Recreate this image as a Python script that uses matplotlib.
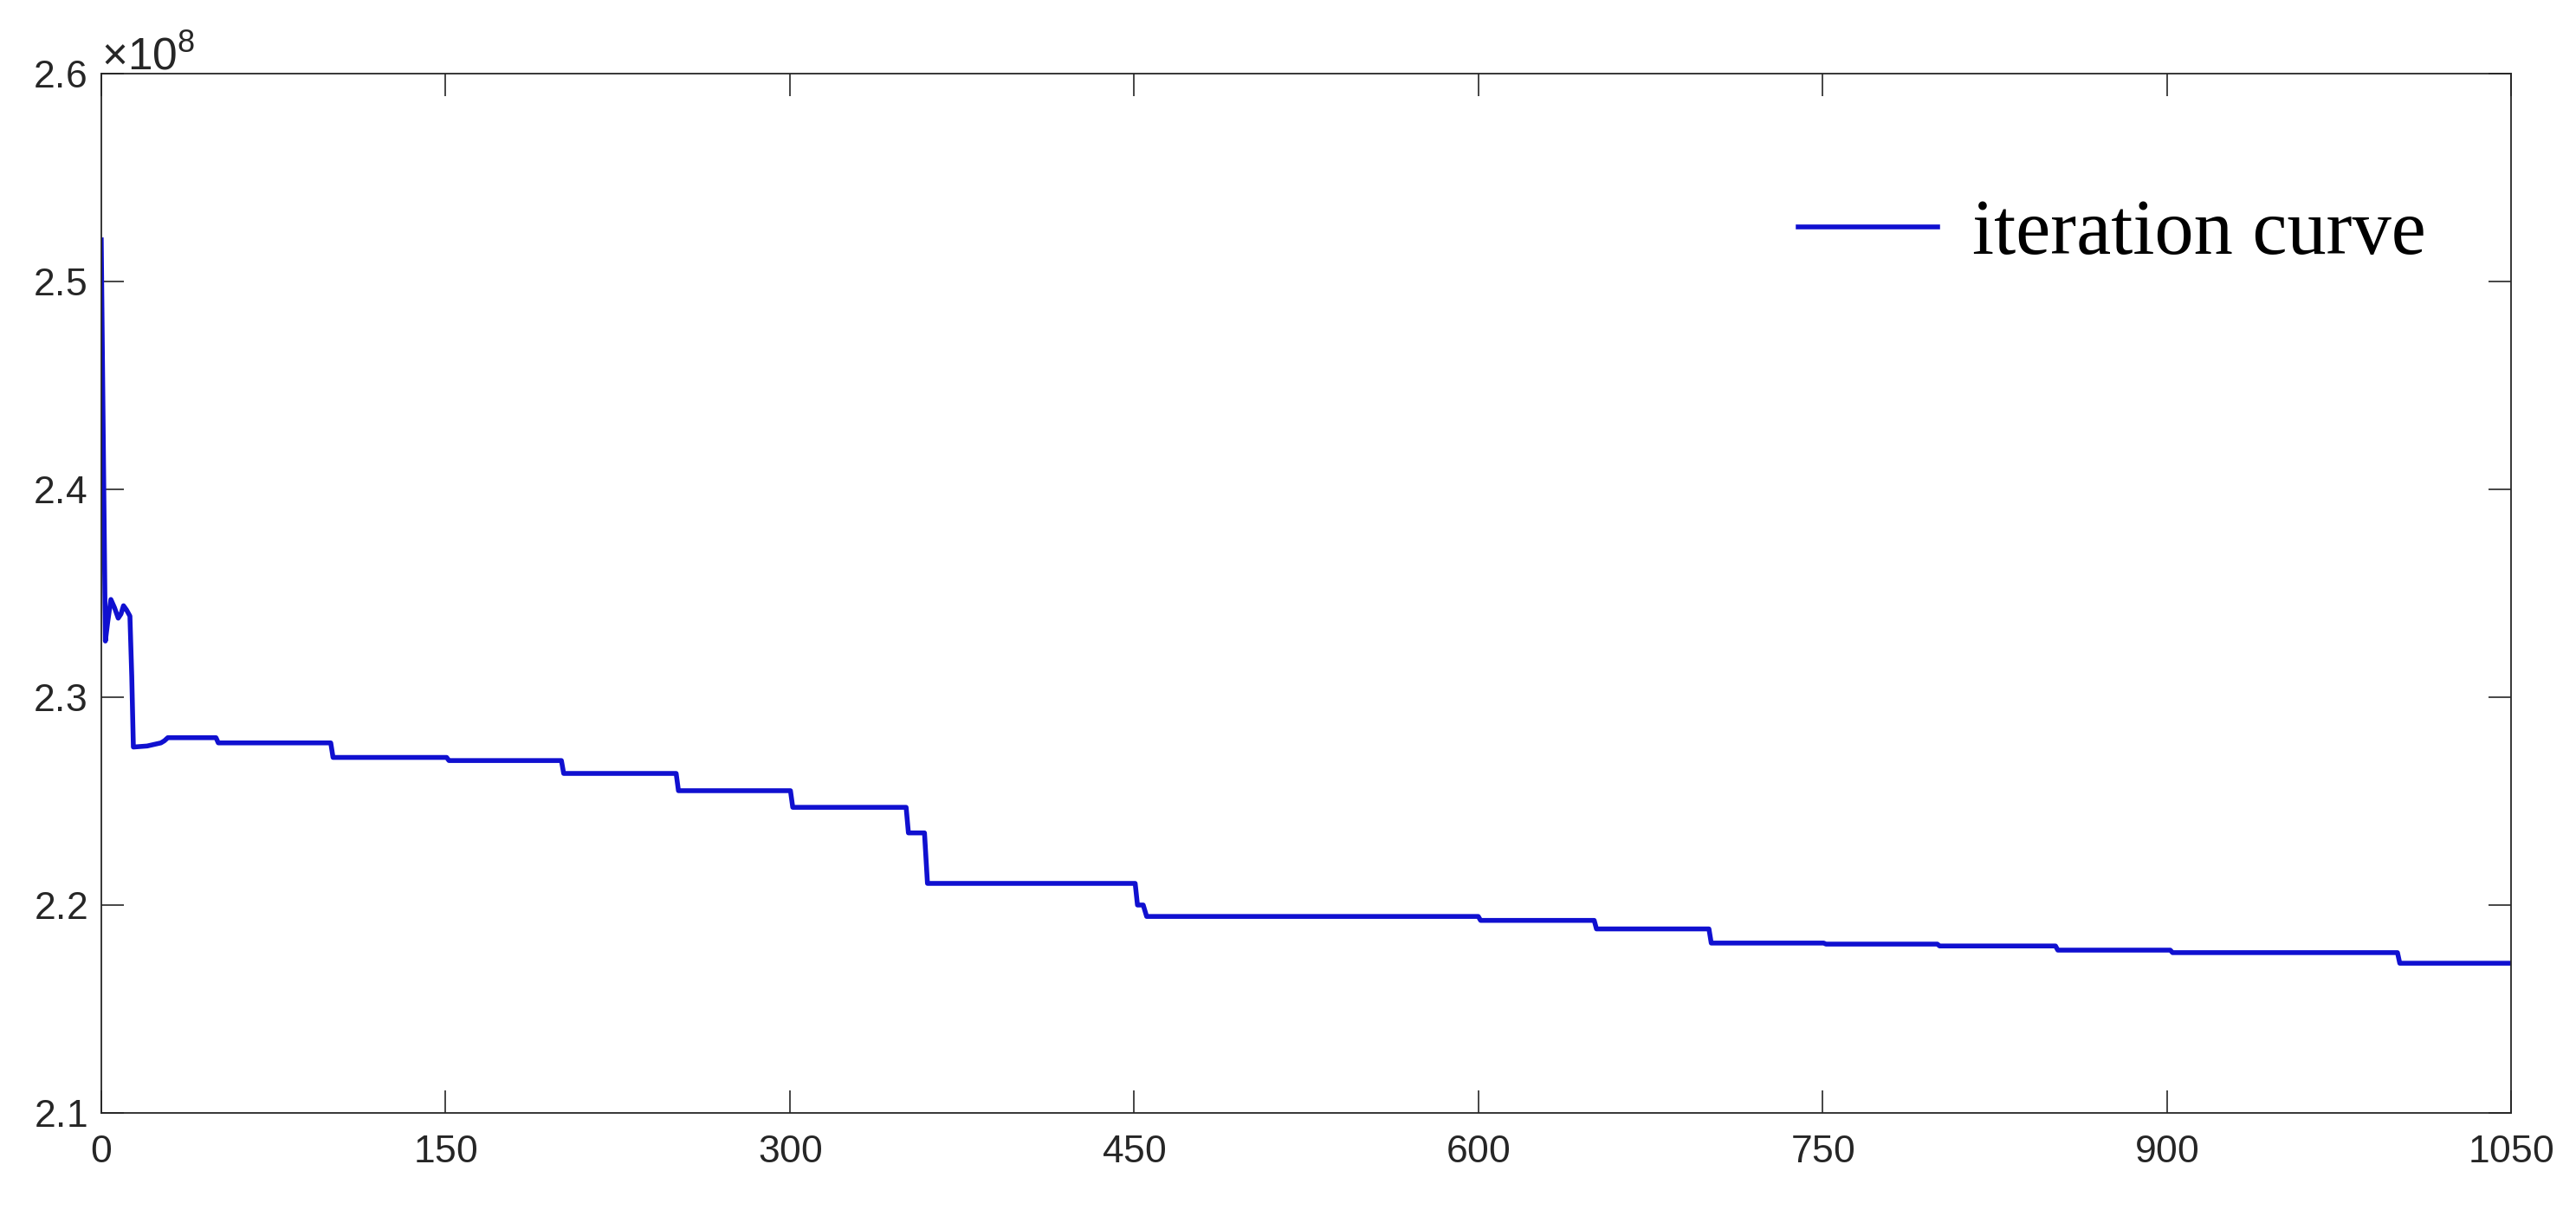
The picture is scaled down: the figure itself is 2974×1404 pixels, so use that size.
import matplotlib
matplotlib.use('Agg')
from matplotlib import pyplot as plt
from matplotlib.ticker import ScalarFormatter

# iteration number and objective value
iters = [0, 1.8, 2.8, 4.2, 5.8, 7.4, 8.6, 9.7, 11, 12.5, 13.3, 14.0, 20, 26, 27.5, 29,
         50, 51, 100, 101, 150.5, 151.5, 200.5, 201.5, 250.5, 251.5, 300.3, 301.3,
         350.7, 351.7, 358.7, 360, 450.5, 451.5, 454, 455.5, 600, 601, 650.5, 651.5,
         700.5, 701.5, 750.5, 751.5, 800, 801, 851.5, 852.5, 901.5, 902.5, 1000.5,
         1001.5, 1050]
cost = [2.52, 2.327, 2.336, 2.347, 2.343, 2.338, 2.340, 2.344, 2.342, 2.339, 2.31,
        2.276, 2.2765, 2.278, 2.279, 2.2805, 2.2805, 2.278, 2.278, 2.271, 2.271,
        2.2695, 2.2695, 2.2633, 2.2633, 2.255, 2.255, 2.247, 2.247, 2.2347, 2.2347,
        2.2104, 2.2104, 2.2, 2.2, 2.1945, 2.1945, 2.1926, 2.1926, 2.1885, 2.1885,
        2.1817, 2.1817, 2.1812, 2.1812, 2.1803, 2.1803, 2.1783, 2.1783, 2.1771,
        2.1771, 2.172, 2.172]
cost = [c * 1e8 for c in cost]

x_ticks = [0, 150, 300, 450, 600, 750, 900, 1050]
y_ticks = [2.1e8, 2.2e8, 2.3e8, 2.4e8, 2.5e8, 2.6e8]

plt.rcParams['font.family'] = 'Liberation Sans'
plt.rcParams['mathtext.fontset'] = 'custom'
plt.rcParams['mathtext.rm'] = 'Liberation Sans'
plt.rcParams['axes.formatter.use_mathtext'] = True

dark = '#262626'

fig = plt.figure(figsize=(29.74, 14.04), dpi=100)
ax = fig.add_axes([0.0393, 0.0848, 0.9355, 0.8547])

ax.plot(iters, cost, color='#1010D0', linewidth=4, label='iteration curve')

ax.set_xlim(0, 1050)
ax.set_ylim(2.1e8, 2.6e8)
ax.set_xticks(x_ticks)
ax.set_yticks(y_ticks)

fmt = ScalarFormatter(useMathText=True)
fmt.set_useOffset(False)
ax.yaxis.set_major_formatter(fmt)

ax.tick_params(direction='in', top=True, right=True, length=19, width=1.2,
               colors=dark, labelsize=32)
ax.tick_params(axis='x', pad=18)
ax.tick_params(axis='y', pad=12)
ax.yaxis.get_offset_text().set_fontsize(37)
ax.yaxis.get_offset_text().set_color(dark)
for s in ax.spines.values():
    s.set_color(dark)
    s.set_linewidth(1.3)

ax.legend(loc='center right', bbox_to_anchor=(0.9648, 0.845), frameon=False,
          handlelength=1.78, handletextpad=0.45, borderpad=0, borderaxespad=0,
          prop={'family': 'Liberation Serif', 'size': 65})

plt.savefig('out.png', dpi=100)
